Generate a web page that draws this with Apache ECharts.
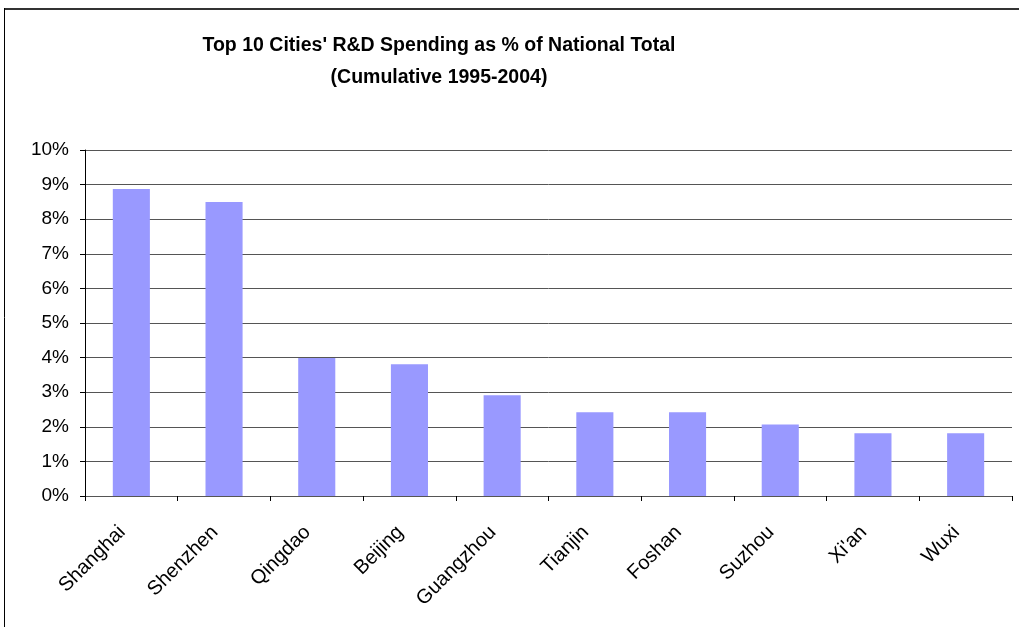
<!DOCTYPE html>
<html>
<head>
<meta charset="utf-8">
<style>
html,body{margin:0;padding:0;background:#fff;}
#c{width:1019px;height:627px;}
</style>
<script src="https://cdn.jsdelivr.net/npm/echarts@6/dist/echarts.min.js"></script>
</head>
<body>
<div id="c"></div>
<script>
var categories = ['Shanghai','Shenzhen','Qingdao','Beijing','Guangzhou','Tianjin','Foshan','Suzhou',"Xi'an",'Wuxi'];
var values = [8.87, 8.50, 3.99, 3.81, 2.91, 2.42, 2.42, 2.07, 1.81, 1.81];
var titleLines = ["Top 10 Cities' R&D Spending as % of National Total", "(Cumulative 1995-2004)"];

var chart = echarts.init(document.getElementById('c'), null, {renderer:'canvas'});
chart.setOption({
  backgroundColor:'#fff',
  animation:false,
  title:{
    text: titleLines.join('\n'),
    left: 434, top: 25, textAlign:'center',
    textStyle:{fontFamily:'Liberation Sans, Arial, sans-serif', fontWeight:'bold', fontSize:19.5, color:'#000', lineHeight:32}
  },
  grid:{left:85, right:7, top:150, bottom:131, containLabel:false},
  xAxis:{
    type:'category', data:categories,
    axisLine:{show:true, lineStyle:{color:'#555', width:1}},
    axisTick:{show:true, alignWithLabel:false, length:5, lineStyle:{color:'#000'}},
    axisLabel:{rotate:45, margin:24, padding:[0,13,0,0], fontFamily:'Liberation Sans, Arial, sans-serif', fontSize:20, color:'#000', interval:0}
  },
  yAxis:{
    type:'value', min:0, max:10, interval:1,
    axisLine:{show:true, lineStyle:{color:'#000', width:1}},
    axisTick:{show:true, length:5, lineStyle:{color:'#000'}},
    axisLabel:{formatter:'{value}%', margin:16, fontFamily:'Liberation Sans, Arial, sans-serif', fontSize:19, color:'#000'},
    splitLine:{show:true, lineStyle:{color:'#555', width:1}}
  },
  series:[{
    type:'bar', data:values, barCategoryGap:'60%',
    itemStyle:{color:'#9999FF'}
  }],
  graphic:[
    {type:'line', shape:{x1:4, y1:9, x2:1019, y2:9}, style:{stroke:'#333', lineWidth:2}},
    {type:'line', shape:{x1:4.5, y1:8, x2:4.5, y2:627}, style:{stroke:'#000', lineWidth:1}}
  ]
});
</script>
</body>
</html>
